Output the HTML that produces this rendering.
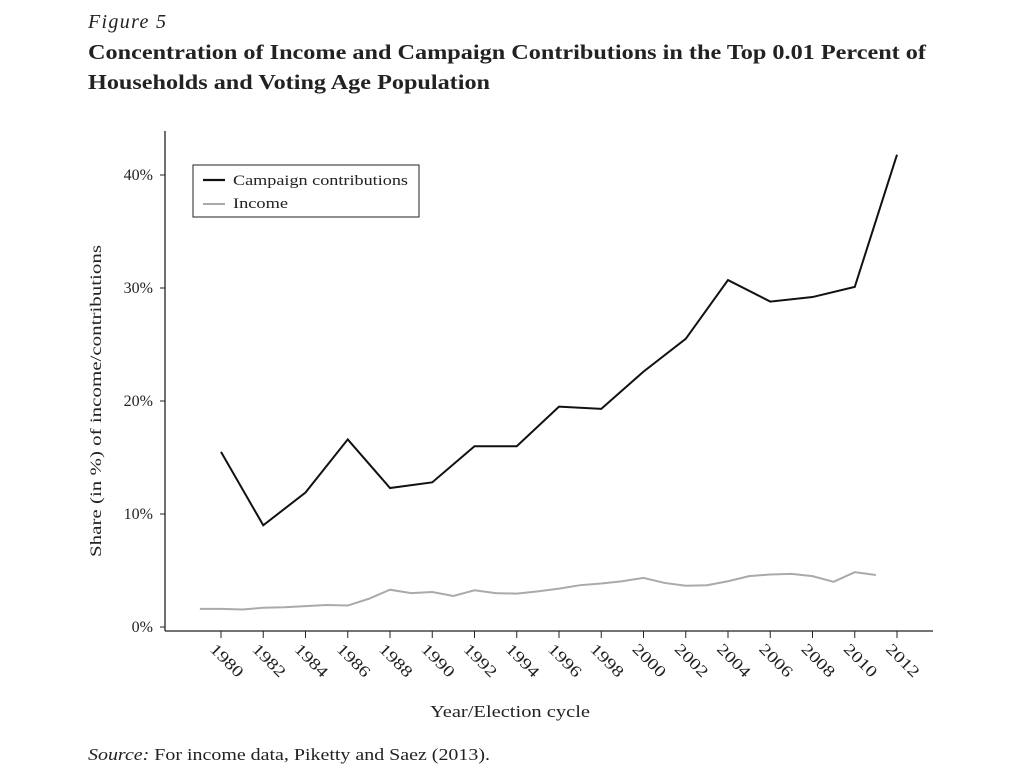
<!DOCTYPE html>
<html><head><meta charset="utf-8"><style>
body{margin:0;background:#fff;width:1024px;height:768px;overflow:hidden;font-family:"Liberation Serif",serif;}
svg text{font-family:"Liberation Serif",serif;fill:#222;}
</style></head><body>
<svg width="1024" height="768">
<text x="88" y="28" font-size="20" font-style="italic" textLength="78">Figure 5</text>
<text x="88" y="59" font-size="21" font-weight="bold" textLength="838" lengthAdjust="spacingAndGlyphs">Concentration of Income and Campaign Contributions in the Top 0.01 Percent of</text>
<text x="88" y="89" font-size="21" font-weight="bold" textLength="402" lengthAdjust="spacingAndGlyphs">Households and Voting Age Population</text>
<g id="plot"></g>
<text x="430" y="717" font-size="17" textLength="160" lengthAdjust="spacingAndGlyphs">Year/Election cycle</text>
<text transform="translate(101,401) rotate(-90)" font-size="16" text-anchor="middle" textLength="312" lengthAdjust="spacingAndGlyphs">Share (in %) of income/contributions</text>
<text x="88" y="760" font-size="17" textLength="402" lengthAdjust="spacingAndGlyphs"><tspan font-style="italic">Source:</tspan> For income data, Piketty and Saez (2013).</text>
<g>
<rect x="193" y="165" width="226" height="52" fill="#fff" stroke="#222" stroke-width="1"/>
<line x1="203" y1="180" x2="225" y2="180" stroke="#111" stroke-width="2.2"/>
<text x="233" y="185" font-size="15" textLength="175" lengthAdjust="spacingAndGlyphs">Campaign contributions</text>
<line x1="203" y1="204" x2="225" y2="204" stroke="#aaa" stroke-width="2"/>
<text x="233" y="208" font-size="15" textLength="55" lengthAdjust="spacingAndGlyphs">Income</text>
</g>
</svg>
<script>
const campaignYears=[1980,1982,1984,1986,1988,1990,1992,1994,1996,1998,2000,2002,2004,2006,2008,2010,2012];
const campaignValues=[15.5,9.0,11.9,16.6,12.3,12.8,16.0,16.0,19.5,19.3,22.6,25.5,30.7,28.8,29.2,30.1,41.8];
const incomeYears=[1979,1980,1981,1982,1983,1984,1985,1986,1987,1988,1989,1990,1991,1992,1993,1994,1995,1996,1997,1998,1999,2000,2001,2002,2003,2004,2005,2006,2007,2008,2009,2010,2011];
const incomeValues=[1.6,1.6,1.55,1.7,1.75,1.85,1.95,1.9,2.5,3.3,3.0,3.1,2.75,3.25,3.0,2.95,3.15,3.4,3.7,3.85,4.05,4.35,3.9,3.65,3.7,4.05,4.5,4.65,4.7,4.5,4.0,4.85,4.6];
const yTicks=[0,10,20,30,40];
const xTickYears=[1980,1982,1984,1986,1988,1990,1992,1994,1996,1998,2000,2002,2004,2006,2008,2010,2012];
const NS="http://www.w3.org/2000/svg";
const g=document.getElementById('plot');
function xs(yr){return 221+(yr-1980)*(897-221)/32;}
function ys(v){return 627-v*11.3;}
function mk(t,a){const e=document.createElementNS(NS,t);for(const k in a)e.setAttribute(k,a[k]);g.appendChild(e);return e;}
let e=mk('line',{x1:165,y1:131,x2:165,y2:631,stroke:'#222','stroke-width':1.3});


e=mk('line',{x1:165,y1:631,x2:933,y2:631,stroke:'#222','stroke-width':1.3});


yTicks.forEach(v=>{
 let t=mk('line',{x1:160,y1:ys(v),x2:165,y2:ys(v),stroke:'#222'});
 
 
 let l=mk('text',{x:153,y:ys(v)+5,'font-size':16,'text-anchor':'end'});l.textContent=v+'%';
 
 
});
xTickYears.forEach(yr=>{
 const x=xs(yr);
 let t=mk('line',{x1:x,y1:631,x2:x,y2:638,stroke:'#222'});
 
 
 let l=mk('text',{transform:`translate(${x-12},${650}) rotate(45)`,'font-size':16,textLength:40,lengthAdjust:'spacingAndGlyphs'});l.textContent=yr;
 
 
});
let p=mk('polyline',{points:incomeYears.map((y,i)=>xs(y)+','+ys(incomeValues[i])).join(' '),fill:'none',stroke:'#aaa','stroke-width':2});


p=mk('polyline',{points:campaignYears.map((y,i)=>xs(y)+','+ys(campaignValues[i])).join(' '),fill:'none',stroke:'#111','stroke-width':2});


</script>
</body></html>
